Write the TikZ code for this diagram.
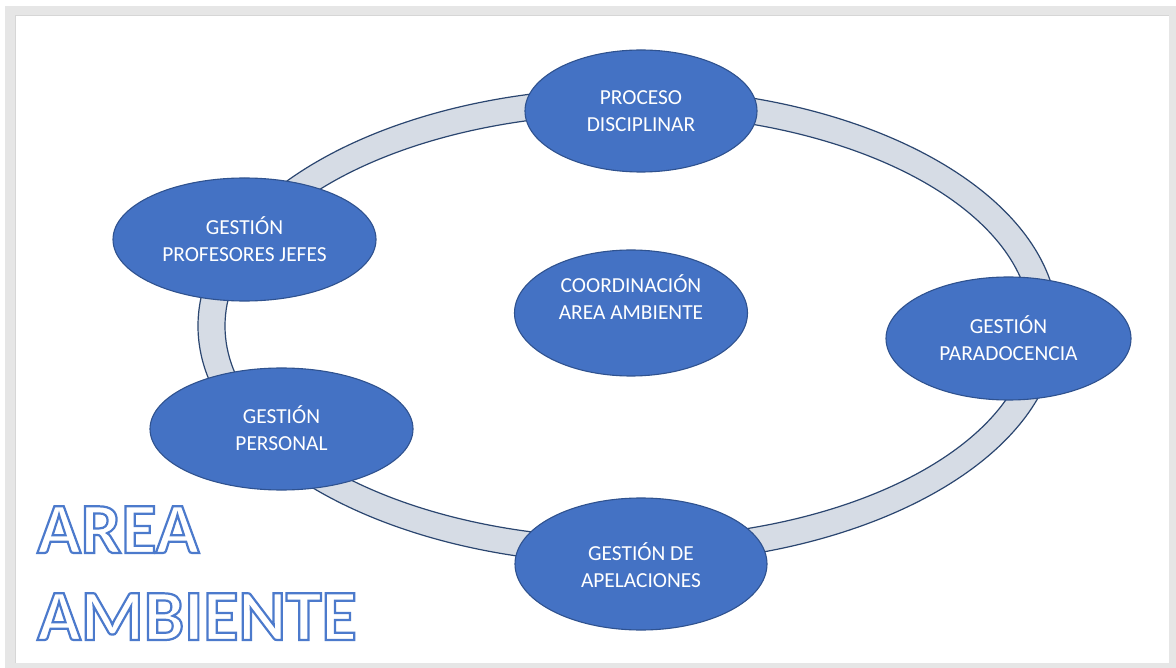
\documentclass[tikz,border=0pt]{standalone}
\usepackage{fontspec}
\setmainfont{Carlito}
\usetikzlibrary{shapes.geometric}
\definecolor{framegray}{HTML}{E6E6E6}
\definecolor{frameline}{HTML}{D6D6D6}
\definecolor{ringfill}{HTML}{D6DCE5}
\definecolor{ringline}{HTML}{2B4670}
\definecolor{nodeblue}{HTML}{4472C4}
\definecolor{nodeline}{HTML}{2F528F}
\newcommand{\outlinetext}[1]{\special{pdf:literal direct 2 Tr 2.2 w 0.30 0.48 0.80 RG}#1\special{pdf:literal direct 0 Tr}}
\tikzset{
  blob/.style={ellipse, draw=nodeline, fill=nodeblue, line width=1.1pt, inner sep=0pt},
  blobtext/.style={text=white, align=center, font=\fontsize{21.4}{26.5}\selectfont, inner sep=0pt},
  bigtitle/.style={anchor=base west, inner sep=0pt, text=white, font=\fontsize{72}{87}\selectfont\bfseries},
}
\begin{document}
\begin{tikzpicture}[x=1pt,y=-1pt]
\useasboundingbox (0,0) rectangle (1176,668);
% frame
\fill[framegray] (5,6) rectangle (1176,668);
\fill[white] (15,15) rectangle (1169,663);
\draw[frameline, line width=0.8pt] (15,663) -- (15,15) -- (1169,15);
% ring
\path[fill=ringfill, even odd rule, draw=ringline, line width=1.2pt]
  (628,326) ellipse [x radius=430, y radius=238]
  (628,326) ellipse [x radius=403, y radius=212];
% ellipses
\node[blob, minimum width=232, minimum height=122] (pd) at (641,111) {};
\node[blob, minimum width=263, minimum height=123] (pj) at (244.5,239.5) {};
\node[blob, minimum width=233, minimum height=126] (ca) at (631,313) {};
\node[blob, minimum width=245, minimum height=123] (gp) at (1008.5,338.5) {};
\node[blob, minimum width=263, minimum height=122] (ps) at (281.5,429) {};
\node[blob, minimum width=252, minimum height=132] (ap) at (641,564) {};
% texts
\node[blobtext] (tpd) at (641,111) {PROCESO\\DISCIPLINAR};
\node[blobtext] (tpj) at (244.5,239) {GESTIÓN\\PROFESORES JEFES};
\node[blobtext] (tca) at (631,297) {COORDINACIÓN\\AREA AMBIENTE};
\node[blobtext] (tgp) at (1008.5,338) {GESTIÓN\\PARADOCENCIA};
\node[blobtext] (tps) at (281.5,428) {GESTIÓN\\PERSONAL};
\node[blobtext] (tap) at (641,565) {GESTIÓN DE\\APELACIONES};
% big outlined title
\node[bigtitle] (a1) at (37,553) {\outlinetext{AREA}};
\node[bigtitle] (a2) at (37,640) {\outlinetext{AMBIENTE}};
\end{tikzpicture}
\end{document}
